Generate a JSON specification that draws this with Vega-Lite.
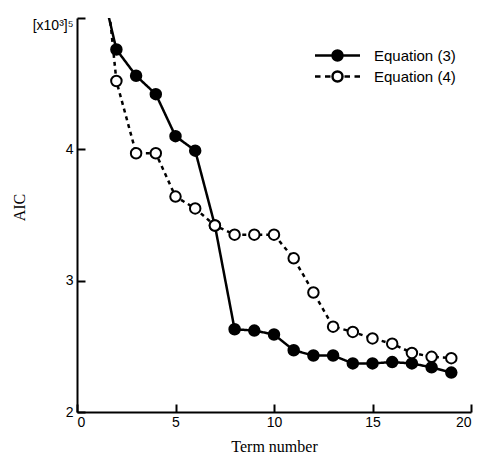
{
  "$schema": "https://vega.github.io/schema/vega-lite/v6.json",
  "width": 394,
  "height": 394,
  "autosize": "none",
  "padding": {"left": 77, "top": 18, "right": 15, "bottom": 45},
  "background": "white",
  "config": {
    "view": {"stroke": null},
    "axis": {
      "domainColor": "black",
      "domainWidth": 2,
      "tickColor": "black",
      "tickWidth": 2,
      "tickSize": -8,
      "grid": false,
      "labelFont": "Liberation Sans",
      "labelFontSize": 14,
      "labelColor": "black",
      "titleFont": "Liberation Serif",
      "titleFontSize": 16,
      "titleFontWeight": "normal",
      "titleColor": "black"
    },
    "legend": {
      "title": null,
      "orient": "none",
      "legendX": 253,
      "legendY": 30,
      "padding": 0,
      "symbolSize": 100,
      "symbolStrokeWidth": 2.5,
      "symbolStrokeColor": "black",
      "labelOffset": 29,
      "labelFont": "Liberation Sans",
      "labelFontSize": 15,
      "labelColor": "black",
      "rowPadding": 0
    }
  },
  "data": {
    "values": [
      {"term": 1, "aic": 5.4, "series": "Equation (3)"},
      {"term": 2, "aic": 4.76, "series": "Equation (3)"},
      {"term": 3, "aic": 4.56, "series": "Equation (3)"},
      {"term": 4, "aic": 4.42, "series": "Equation (3)"},
      {"term": 5, "aic": 4.1, "series": "Equation (3)"},
      {"term": 6, "aic": 3.99, "series": "Equation (3)"},
      {"term": 7, "aic": 3.42, "series": "Equation (3)"},
      {"term": 8, "aic": 2.63, "series": "Equation (3)"},
      {"term": 9, "aic": 2.62, "series": "Equation (3)"},
      {"term": 10, "aic": 2.59, "series": "Equation (3)"},
      {"term": 11, "aic": 2.47, "series": "Equation (3)"},
      {"term": 12, "aic": 2.43, "series": "Equation (3)"},
      {"term": 13, "aic": 2.43, "series": "Equation (3)"},
      {"term": 14, "aic": 2.37, "series": "Equation (3)"},
      {"term": 15, "aic": 2.37, "series": "Equation (3)"},
      {"term": 16, "aic": 2.38, "series": "Equation (3)"},
      {"term": 17, "aic": 2.37, "series": "Equation (3)"},
      {"term": 18, "aic": 2.34, "series": "Equation (3)"},
      {"term": 19, "aic": 2.3, "series": "Equation (3)"},
      {"term": 1, "aic": 6.0, "series": "Equation (4)"},
      {"term": 2, "aic": 4.52, "series": "Equation (4)"},
      {"term": 3, "aic": 3.97, "series": "Equation (4)"},
      {"term": 4, "aic": 3.97, "series": "Equation (4)"},
      {"term": 5, "aic": 3.64, "series": "Equation (4)"},
      {"term": 6, "aic": 3.55, "series": "Equation (4)"},
      {"term": 7, "aic": 3.42, "series": "Equation (4)"},
      {"term": 8, "aic": 3.35, "series": "Equation (4)"},
      {"term": 9, "aic": 3.35, "series": "Equation (4)"},
      {"term": 10, "aic": 3.35, "series": "Equation (4)"},
      {"term": 11, "aic": 3.17, "series": "Equation (4)"},
      {"term": 12, "aic": 2.91, "series": "Equation (4)"},
      {"term": 13, "aic": 2.65, "series": "Equation (4)"},
      {"term": 14, "aic": 2.61, "series": "Equation (4)"},
      {"term": 15, "aic": 2.56, "series": "Equation (4)"},
      {"term": 16, "aic": 2.52, "series": "Equation (4)"},
      {"term": 17, "aic": 2.45, "series": "Equation (4)"},
      {"term": 18, "aic": 2.42, "series": "Equation (4)"},
      {"term": 19, "aic": 2.41, "series": "Equation (4)"}
    ]
  },
  "encoding": {
    "x": {
      "field": "term", "type": "quantitative",
      "scale": {"domain": [0, 20], "nice": false},
      "axis": {"title": "Term number", "values": [0, 5, 10, 15, 20], "labelPadding": 11, "titlePadding": 9}
    },
    "y": {
      "field": "aic", "type": "quantitative",
      "scale": {"domain": [2, 5], "nice": false, "zero": false},
      "axis": {
        "title": "AIC", "values": [2, 3, 4, 5], "labelPadding": 12, "titlePadding": 5, "titleY": 189,
        "labelExpr": "datum.value == 5 ? '[x10³]⁵' : datum.label",
        "labelBaseline": {"condition": {"test": "datum.value == 5", "value": "top"}, "value": "middle"},
        "labelFlush": false
      }
    }
  },
  "layer": [
    {
      "mark": {"type": "line", "clip": true, "color": "black", "strokeWidth": 2.5},
      "encoding": {
        "detail": {"field": "series", "type": "nominal"},
        "strokeDash": {"condition": {"test": "datum.series == 'Equation (4)'", "value": [4, 4]}, "value": [1, 0]}
      }
    },
    {
      "mark": {"type": "point", "shape": "circle", "clip": true, "size": 110, "stroke": "black", "strokeWidth": 2, "opacity": 1, "filled": false},
      "encoding": {
        "fill": {
          "field": "series", "type": "nominal",
          "scale": {"domain": ["Equation (3)", "Equation (4)"], "range": ["black", "white"]}
        }
      }
    },
    {
      "transform": [{"filter": "datum.term > 100"}],
      "mark": {"type": "point", "clip": true, "size": 100, "stroke": "black", "strokeWidth": 2.5, "opacity": 1, "filled": false},
      "encoding": {
        "fill": {
          "field": "series", "type": "nominal",
          "scale": {"domain": ["Equation (3)", "Equation (4)"], "range": ["black", "white"]}
        },
        "shape": {
          "field": "series", "type": "nominal",
          "scale": {
            "domain": ["Equation (3)", "Equation (4)"],
            "range": [
              "M-4.5,0H-1M1,0H4.5M-1,0A1,1 0 1,1 1,0A1,1 0 1,1 -1,0Z",
              "M-4.5,0H-3.4M-2.5,0H-1.4M1.4,0H2.5M3.4,0H4.5M-1,0A1,1 0 1,1 1,0A1,1 0 1,1 -1,0Z"
            ]
          }
        }
      }
    }
  ]
}
